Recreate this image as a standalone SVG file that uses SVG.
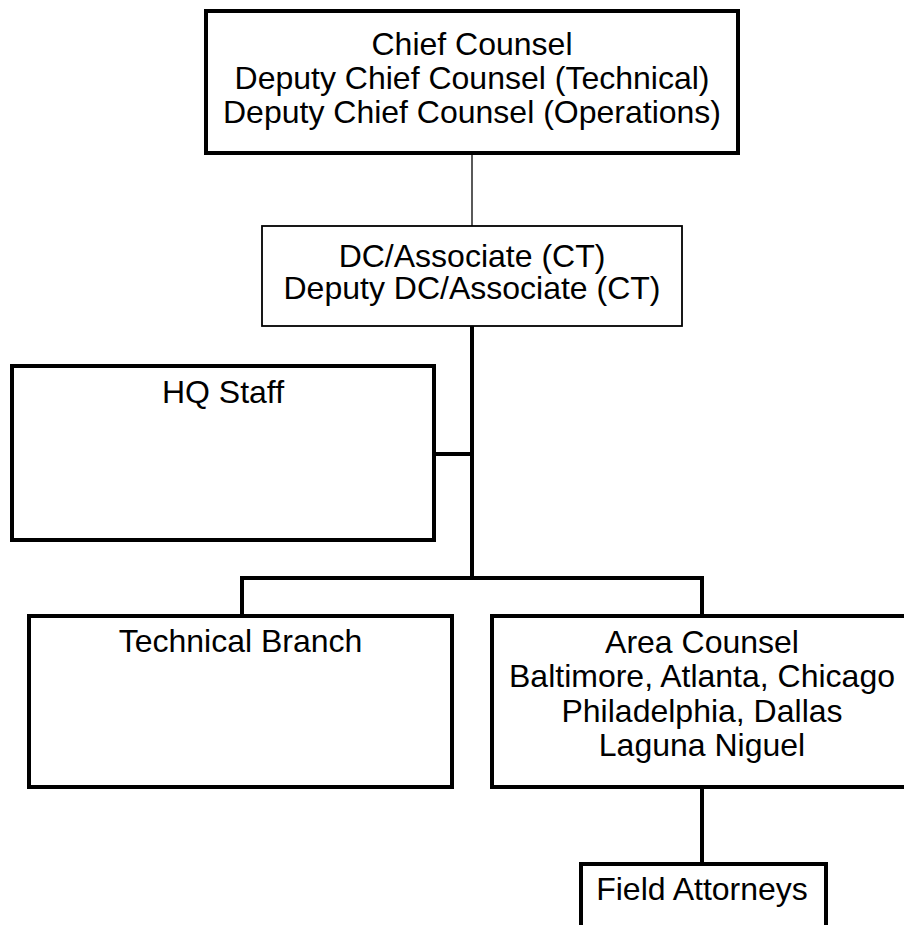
<svg xmlns="http://www.w3.org/2000/svg" width="904" height="925" viewBox="0 0 904 925">
<style>
.box{fill:#fff;stroke:#000;stroke-width:4}
.thin{fill:#fff;stroke:#000;stroke-width:1.8}
.t{font-family:"Liberation Sans",Arial,sans-serif;font-size:32px;fill:#000;text-anchor:middle}
.c{fill:none;stroke:#000;stroke-width:4;stroke-linecap:square}
.cthin{fill:none;stroke:#000;stroke-width:1.3}
</style>
<rect width="904" height="925" fill="#fff"/>
<g id="connectors">
<line class="cthin" x1="472" y1="153" x2="472" y2="226"/>
<line class="c" x1="472" y1="328" x2="472" y2="578"/>
<line class="c" x1="434" y1="454" x2="472" y2="454"/>
<polyline class="c" points="242,615 242,578 702,578 702,615"/>
<line class="c" x1="702" y1="788" x2="702" y2="863"/>
</g>
<g id="chief">
<rect class="box" x="206" y="11" width="532" height="142"/>
<text class="t" x="472" y="55">Chief Counsel</text>
<text class="t" x="472" y="89">Deputy Chief Counsel (Technical)</text>
<text class="t" x="472" y="123">Deputy Chief Counsel (Operations)</text>
</g>
<g id="dc">
<rect class="thin" x="262" y="226" width="420" height="100"/>
<text class="t" x="472" y="267">DC/Associate (CT)</text>
<text class="t" x="472" y="299">Deputy DC/Associate (CT)</text>
</g>
<g id="hq">
<rect class="box" x="12" y="366" width="422" height="174"/>
<text class="t" x="223" y="403">HQ Staff</text>
</g>
<g id="technical">
<rect class="box" x="29" y="616" width="423" height="171"/>
<text class="t" x="240.5" y="652">Technical Branch</text>
</g>
<g id="area">
<rect class="box" x="492" y="616" width="420" height="171"/>
<text class="t" x="702" y="653">Area Counsel</text>
<text class="t" x="702" y="687">Baltimore, Atlanta, Chicago</text>
<text class="t" x="702" y="721.5">Philadelphia, Dallas</text>
<text class="t" x="702" y="756">Laguna Niguel</text>
</g>
<g id="field">
<rect class="box" x="581" y="864" width="245" height="90"/>
<text class="t" x="702" y="900">Field Attorneys</text>
</g>
</svg>
